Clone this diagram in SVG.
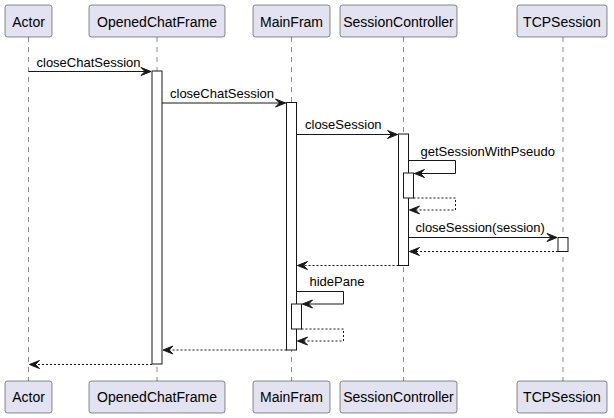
<svg xmlns="http://www.w3.org/2000/svg" width="614" height="418" viewBox="0 0 614 418">
<style>
.p{fill:#E2E2F0;stroke:#181818;stroke-width:0.5}
.pt{font-family:"Liberation Sans",Arial,sans-serif;font-size:14px;fill:#000;text-anchor:middle}
.ll{stroke:#181818;stroke-width:0.5;stroke-dasharray:5,5;fill:none}
.act{fill:#FFFFFF;stroke:#181818;stroke-width:1}
.m{stroke:#181818;stroke-width:1;fill:none}
.r{stroke:#181818;stroke-width:1;stroke-dasharray:2,2;fill:none}
.ml{font-family:"Liberation Sans",Arial,sans-serif;font-size:13px;fill:#000}
.ah{fill:#181818;stroke:#181818;stroke-width:1}
</style>
<rect width="614" height="418" fill="#FFFFFF"/>
<g id="lifelines">
<line class="ll" x1="28.5" y1="37" x2="28.5" y2="381"/>
<line class="ll" x1="157" y1="37" x2="157" y2="381"/>
<line class="ll" x1="291.5" y1="37" x2="291.5" y2="381"/>
<line class="ll" x1="403.5" y1="37" x2="403.5" y2="381"/>
<line class="ll" x1="563" y1="37" x2="563" y2="381"/>
</g>
<g id="Actor">
<rect class="p" x="5" y="5" width="47" height="32" rx="2.5"/>
<text class="pt" x="28.5" y="26.5">Actor</text>
<rect class="p" x="5" y="381" width="47" height="32" rx="2.5"/>
<text class="pt" x="28.5" y="402">Actor</text>
</g>
<g id="OpenedChatFrame">
<rect class="p" x="89" y="5" width="136" height="32" rx="2.5"/>
<text class="pt" x="157" y="26.5">OpenedChatFrame</text>
<rect class="p" x="89" y="381" width="136" height="32" rx="2.5"/>
<text class="pt" x="157" y="402">OpenedChatFrame</text>
<rect class="act" x="152" y="71" width="10" height="293"/>
</g>
<g id="MainFram">
<rect class="p" x="253" y="5" width="77" height="32" rx="2.5"/>
<text class="pt" x="291.5" y="26.5">MainFram</text>
<rect class="p" x="253" y="381" width="77" height="32" rx="2.5"/>
<text class="pt" x="291.5" y="402">MainFram</text>
<rect class="act" x="286.5" y="102.5" width="10" height="247.5"/>
<rect class="act" x="291.5" y="304" width="10" height="25"/>
</g>
<g id="SessionController">
<rect class="p" x="340" y="5" width="117" height="32" rx="2.5"/>
<text class="pt" x="398.5" y="26.5">SessionController</text>
<rect class="p" x="340" y="381" width="117" height="32" rx="2.5"/>
<text class="pt" x="398.5" y="402">SessionController</text>
<rect class="act" x="398.5" y="134" width="10" height="131.5"/>
<rect class="act" x="403.5" y="173" width="10" height="25"/>
</g>
<g id="TCPSession">
<rect class="p" x="517" y="5" width="90" height="32" rx="2.5"/>
<text class="pt" x="562" y="26.5">TCPSession</text>
<rect class="p" x="517" y="381" width="90" height="32" rx="2.5"/>
<text class="pt" x="562" y="402">TCPSession</text>
<rect class="act" x="558" y="237.5" width="10" height="14"/>
</g>
<g id="connectors">
<line class="m" x1="28.5" y1="71.5" x2="151" y2="71.5"/>
<polygon class="ah" points="141,67.5 151,71.5 141,75.5 145,71.5"/>
<text class="ml" x="36.5" y="66.5">closeChatSession</text>

<line class="m" x1="162" y1="103" x2="285.5" y2="103"/>
<polygon class="ah" points="275.5,99 285.5,103 275.5,107 279.5,103"/>
<text class="ml" x="170" y="97.5">closeChatSession</text>

<line class="m" x1="296.5" y1="134.5" x2="397.5" y2="134.5"/>
<polygon class="ah" points="387.5,130.5 397.5,134.5 387.5,138.5 391.5,134.5"/>
<text class="ml" x="305" y="129">closeSession</text>

<polyline class="m" points="408.5,160.5 455.5,160.5 455.5,173.5 414.5,173.5"/>
<polygon class="ah" points="424.5,169.5 414.5,173.5 424.5,177.5 420.5,173.5"/>
<text class="ml" x="420.5" y="155.5">getSessionWithPseudo</text>

<polyline class="r" points="413.5,198 455.5,198 455.5,210 409.5,210"/>
<polygon class="ah" points="419.5,206 409.5,210 419.5,214 415.5,210"/>

<line class="m" x1="408.5" y1="237.5" x2="557" y2="237.5"/>
<polygon class="ah" points="547,233.5 557,237.5 547,241.5 551,237.5"/>
<text class="ml" x="415.5" y="232">closeSession(session)</text>

<line class="r" x1="558" y1="251.5" x2="409.5" y2="251.5"/>
<polygon class="ah" points="419.5,247.5 409.5,251.5 419.5,255.5 415.5,251.5"/>

<line class="r" x1="398.5" y1="265.5" x2="297.5" y2="265.5"/>
<polygon class="ah" points="307.5,261.5 297.5,265.5 307.5,269.5 303.5,265.5"/>

<polyline class="m" points="296.5,291.5 343.5,291.5 343.5,304 302.5,304"/>
<polygon class="ah" points="312.5,300 302.5,304 312.5,308 308.5,304"/>
<text class="ml" x="309.5" y="286">hidePane</text>

<polyline class="r" points="301.5,329 343.5,329 343.5,341 297.5,341"/>
<polygon class="ah" points="307.5,337 297.5,341 307.5,345 303.5,341"/>

<line class="r" x1="286.5" y1="350" x2="163" y2="350"/>
<polygon class="ah" points="173,346 163,350 173,354 169,350"/>

<line class="r" x1="152" y1="364.5" x2="29.5" y2="364.5"/>
<polygon class="ah" points="39.5,360.5 29.5,364.5 39.5,368.5 35.5,364.5"/>
</g>
</svg>
